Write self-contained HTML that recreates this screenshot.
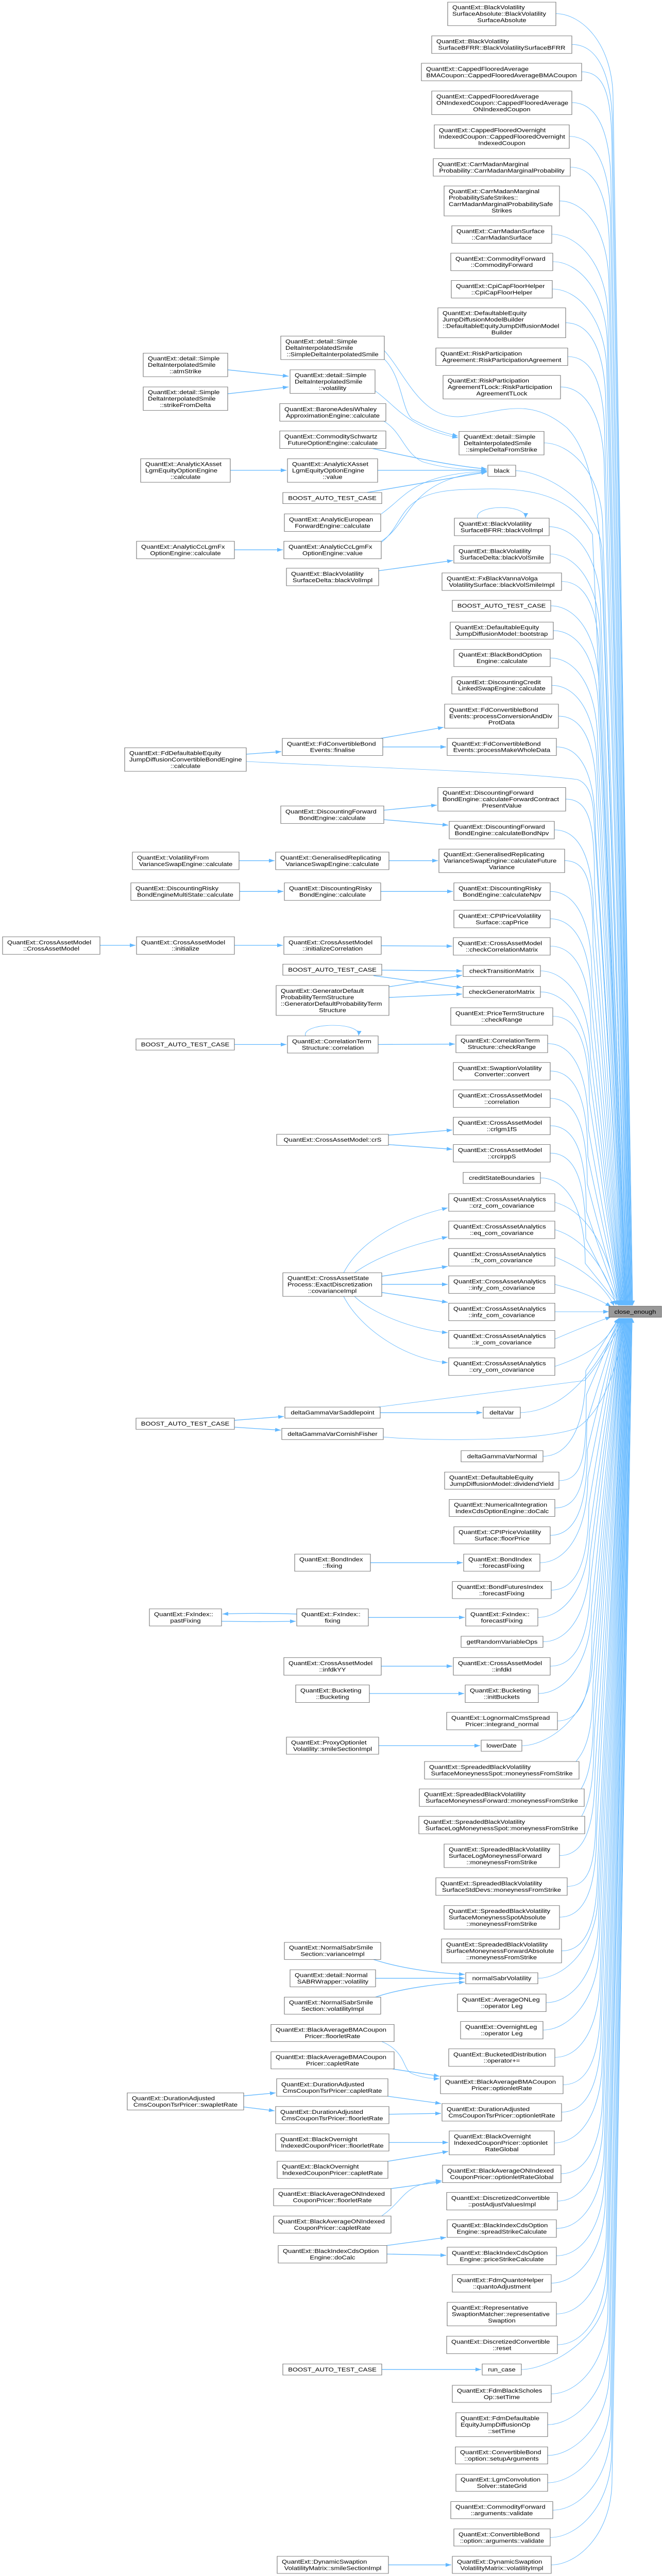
<!DOCTYPE html>
<html><head><meta charset="utf-8"><style>
html,body{margin:0;padding:0;background:#fff;width:100%;height:100vh;overflow:hidden;}
svg{display:block;width:100vw;height:100vh;font-family:"Liberation Sans",Arial,sans-serif;font-size:13px;}
rect{fill:#fff;stroke:#666;stroke-width:1;}
rect.r{fill:#999;}
text{fill:#000;}
.c{text-anchor:middle;}
.e{fill:none;stroke:#63b8ff;stroke-width:1;marker-end:url(#a);}
.t{fill:none;stroke:#63b8ff;stroke-width:1.6;marker-end:url(#a);}
</style></head><body>
<svg viewBox="0 0 1285 6025" preserveAspectRatio="none" xmlns="http://www.w3.org/2000/svg">
<defs><marker id="a" markerUnits="userSpaceOnUse" markerWidth="11" markerHeight="9" refX="11" refY="4.5" orient="auto"><path d="M0,0 L11,4.5 L0,9 z" fill="#63b8ff"/></marker></defs>
<g>
<path class="e" d="M1079 32 C1129 32 1190 102 1190 232 L1228 3053"/>
<path class="e" d="M1110 104 C1160 104 1189 174 1189 304 L1228 3053"/>
<path class="e" d="M1129 168 C1179 168 1188 238 1188 368 L1227 3053"/>
<path class="e" d="M1110 240 C1160 240 1186 310 1186 440 L1226 3053"/>
<path class="e" d="M1105 319 C1155 319 1185 389 1185 519 L1225 3053"/>
<path class="e" d="M1107 391 C1157 391 1183 461 1183 591 L1225 3053"/>
<path class="e" d="M1086 470 C1136 470 1182 540 1182 670 L1224 3053"/>
<path class="e" d="M1071 548 C1121 548 1180 618 1180 748 L1223 3053"/>
<path class="e" d="M1073 612 C1123 612 1179 682 1179 812 L1222 3053"/>
<path class="e" d="M1072 676 C1122 676 1178 746 1178 876 L1222 3053"/>
<path class="e" d="M1098 755 C1148 755 1176 825 1176 955 L1221 3053"/>
<path class="e" d="M1102 834 C1152 834 1174 904 1174 1034 L1220 3053"/>
<path class="e" d="M1088 905 C1138 905 1173 975 1173 1105 L1219 3053"/>
<path class="e" d="M746 820 C790 880 820 990 905 973 C980 960 1030 930 1100 1000 C1150 1060 1165 1200 1170 1400 L1218 3053"/>
<path class="e" d="M1056 1036 C1106 1036 1170 1106 1170 1236 L1218 3053"/>
<path class="e" d="M1001 1101 C1051 1101 1169 1171 1169 1301 L1217 3053"/>
<path class="e" d="M741 1268 C790 1220 770 1150 900 1145 C1000 1140 1100 1140 1150 1250 L1216 3053"/>
<path class="e" d="M1066 1232 C1116 1232 1166 1302 1166 1432 L1216 3053"/>
<path class="e" d="M1068 1296 C1118 1296 1165 1366 1165 1496 L1216 3053"/>
<path class="e" d="M1090 1360 C1140 1360 1164 1430 1164 1560 L1215 3053"/>
<path class="e" d="M1069 1417 C1119 1417 1163 1487 1163 1617 L1214 3053"/>
<path class="e" d="M1074 1475 C1124 1475 1162 1545 1162 1675 L1214 3053"/>
<path class="e" d="M1068 1539 C1118 1539 1160 1609 1160 1739 L1213 3053"/>
<path class="e" d="M1071 1603 C1121 1603 1159 1673 1159 1803 L1213 3053"/>
<path class="e" d="M1084 1675 C1134 1675 1158 1745 1158 1875 L1212 3053"/>
<path class="e" d="M1080 1747 C1130 1747 1156 1817 1156 1947 L1211 3053"/>
<path class="e" d="M478 1781 C700 1795 1000 1805 1120 1823 C1140 1830 1150 1860 1152 1900 L1211 3053"/>
<path class="e" d="M1098 1869 C1148 1869 1154 1939 1154 2069 L1210 3053"/>
<path class="e" d="M1076 1941 C1126 1941 1152 2011 1152 2141 L1209 3053"/>
<path class="e" d="M1096 2013 C1146 2013 1151 2083 1151 2213 L1208 3053"/>
<path class="e" d="M1068 2085 C1118 2085 1149 2155 1149 2285 L1208 3053"/>
<path class="e" d="M1068 2149 C1118 2149 1148 2219 1148 2349 L1207 3053"/>
<path class="e" d="M1068 2213 C1118 2213 1147 2283 1147 2413 L1206 3053"/>
<path class="e" d="M1049 2271 C1099 2271 1146 2341 1146 2471 L1206 3053"/>
<path class="e" d="M1049 2320 C1099 2320 1145 2390 1145 2520 L1205 3053"/>
<path class="e" d="M1073 2377 C1123 2377 1144 2447 1144 2577 L1205 3053"/>
<path class="e" d="M1063 2441 C1113 2441 1142 2511 1142 2641 L1204 3053"/>
<path class="e" d="M1068 2505 C1118 2505 1141 2575 1141 2705 L1204 3053"/>
<path class="e" d="M1068 2569 C1118 2569 1140 2639 1140 2769 L1203 3053"/>
<path class="e" d="M1068 2633 C1118 2633 1138 2703 1138 2833 L1202 3053"/>
<path class="e" d="M1068 2697 C1118 2697 1137 2767 1137 2897 L1202 3053"/>
<path class="e" d="M1049 2755 C1099 2755 1136 2825 1136 2955 L1201 3053"/>
<path class="e" d="M1077 2812 C1130 2830 1180 2900 1200 3053"/>
<path class="e" d="M1077 2876 C1130 2895 1175 2960 1196 3053"/>
<path class="e" d="M1077 2940 C1120 2960 1170 3000 1192 3054"/>
<path class="e" d="M1077 3004 C1110 3015 1150 3030 1186 3056"/>
<path class="e" d="M1077 3068 L1182 3068"/>
<path class="e" d="M1077 3132 C1110 3115 1150 3095 1186 3080"/>
<path class="e" d="M1077 3196 C1140 3170 1180 3140 1200 3084"/>
<path class="e" d="M1010 3304 C1100 3300 1160 3200 1205 3084"/>
<path class="e" d="M733 3291 L1135 3229 C1170 3180 1195 3120 1210 3084"/>
<path class="e" d="M744 3361 C850 3372 1060 3370 1120 3340 C1170 3300 1200 3200 1213 3084"/>
<path class="e" d="M1054 3406 C1104 3406 1137 3336 1137 3206 L1201 3083"/>
<path class="e" d="M1085 3463 C1135 3463 1138 3393 1138 3263 L1202 3083"/>
<path class="e" d="M1077 3527 C1127 3527 1139 3457 1139 3327 L1202 3083"/>
<path class="e" d="M1068 3591 C1118 3591 1140 3521 1140 3391 L1203 3083"/>
<path class="e" d="M1048 3655 C1098 3655 1141 3585 1141 3455 L1204 3083"/>
<path class="e" d="M1070 3719 C1120 3719 1143 3649 1143 3519 L1204 3083"/>
<path class="e" d="M1044 3783 C1094 3783 1144 3713 1144 3583 L1205 3083"/>
<path class="e" d="M1054 3840 C1104 3840 1145 3770 1145 3640 L1206 3083"/>
<path class="e" d="M1068 3897 C1118 3897 1146 3827 1146 3697 L1206 3083"/>
<path class="e" d="M1045 3961 C1095 3961 1148 3891 1148 3761 L1207 3083"/>
<path class="e" d="M1082 4025 C1132 4025 1149 3955 1149 3825 L1207 3083"/>
<path class="e" d="M1013 4083 C1063 4083 1150 4013 1150 3883 L1208 3083"/>
<path class="e" d="M1118 4120 C1135 4095 1151 4060 1151 3940 L1209 3083"/>
<path class="e" d="M1128 4184 C1140 4160 1152 4120 1152 4004 L1209 3083"/>
<path class="e" d="M1129 4248 C1142 4220 1153 4180 1153 4068 L1210 3083"/>
<path class="e" d="M1086 4340 C1136 4340 1155 4270 1155 4140 L1211 3083"/>
<path class="e" d="M1101 4412 C1151 4412 1157 4342 1157 4212 L1211 3083"/>
<path class="e" d="M1086 4484 C1136 4484 1158 4414 1158 4284 L1212 3083"/>
<path class="e" d="M1090 4563 C1140 4563 1160 4493 1160 4363 L1213 3083"/>
<path class="e" d="M1044 4627 C1094 4627 1161 4557 1161 4427 L1213 3083"/>
<path class="e" d="M1060 4684 C1110 4684 1162 4614 1162 4484 L1214 3083"/>
<path class="e" d="M1054 4748 C1104 4748 1163 4678 1163 4548 L1215 3083"/>
<path class="e" d="M1077 4812 C1127 4812 1165 4742 1165 4612 L1215 3083"/>
<path class="e" d="M1093 4876 C1143 4876 1166 4806 1166 4676 L1216 3083"/>
<path class="e" d="M1090 4940 C1140 4940 1167 4870 1167 4740 L1217 3083"/>
<path class="e" d="M1076 5012 C1126 5012 1169 4942 1169 4812 L1217 3083"/>
<path class="e" d="M1089 5084 C1139 5084 1170 5014 1170 4884 L1218 3083"/>
<path class="e" d="M1082 5148 C1132 5148 1171 5078 1171 4948 L1219 3083"/>
<path class="e" d="M1080 5212 C1130 5212 1173 5142 1173 5012 L1219 3083"/>
<path class="e" d="M1080 5276 C1130 5276 1174 5206 1174 5076 L1220 3083"/>
<path class="e" d="M1070 5340 C1120 5340 1175 5270 1175 5140 L1221 3083"/>
<path class="e" d="M1080 5412 C1130 5412 1177 5342 1177 5212 L1221 3083"/>
<path class="e" d="M1082 5484 C1132 5484 1178 5414 1178 5284 L1222 3083"/>
<path class="e" d="M1012 5542 C1062 5542 1179 5472 1179 5342 L1223 3083"/>
<path class="e" d="M1070 5599 C1120 5599 1180 5529 1180 5399 L1223 3083"/>
<path class="e" d="M1063 5671 C1113 5671 1182 5601 1182 5471 L1224 3083"/>
<path class="e" d="M1063 5743 C1113 5743 1183 5673 1183 5543 L1225 3083"/>
<path class="e" d="M1063 5807 C1113 5807 1185 5737 1185 5607 L1225 3083"/>
<path class="e" d="M1073 5871 C1123 5871 1186 5801 1186 5671 L1226 3083"/>
<path class="e" d="M1068 5935 C1118 5935 1187 5865 1187 5735 L1227 3083"/>
<path class="e" d="M1070 5999 C1120 5999 1188 5929 1188 5799 L1227 3083"/>
</g>
<g>
<path class="t" d="M442 865 L560 880"/>
<path class="t" d="M442 921 L560 905"/>
<path class="e" d="M746 840 C780 880 780 960 800 980 C830 1000 860 1012 889 1020"/>
<path class="e" d="M728 914 C770 950 790 1000 889 1024"/>
<path class="e" d="M745 985 C780 1010 785 1060 820 1080 C860 1095 900 1098 945 1100"/>
<path class="t" d="M723 1049 C800 1070 880 1090 945 1097"/>
<path class="t" d="M733 1100 L945 1100"/>
<path class="t" d="M712 1152 L945 1104"/>
<path class="e" d="M740 1202 C790 1160 800 1110 945 1102"/>
<path class="e" d="M740 1266 C800 1220 790 1120 945 1103"/>
<path class="t" d="M455 1286 L549 1286"/>
<path class="t" d="M447 1100 L556 1100"/>
<path class="e" d="M927 1212 C920 1180 1022 1178 1020 1211"/>
<path class="t" d="M735 1335 L879 1311"/>
<path class="t" d="M739 1727 L861 1701"/>
<path class="t" d="M743 1747 L866 1747"/>
<path class="t" d="M478 1764 L546 1758"/>
<path class="t" d="M745 1895 L848 1883"/>
<path class="t" d="M745 1917 L870 1930"/>
<path class="t" d="M464 2013 L533 2013"/>
<path class="t" d="M755 2013 L850 2013"/>
<path class="t" d="M465 2085 L550 2085"/>
<path class="t" d="M739 2085 L879 2085"/>
<path class="t" d="M194 2211 L263 2211"/>
<path class="t" d="M455 2211 L549 2211"/>
<path class="t" d="M740 2212 L878 2213"/>
<path class="t" d="M741 2269 L897 2271"/>
<path class="t" d="M725 2282 L897 2310"/>
<path class="t" d="M755 2308 L897 2281"/>
<path class="t" d="M755 2333 L897 2325"/>
<path class="t" d="M455 2443 L556 2443"/>
<path class="t" d="M734 2443 L883 2442"/>
<path class="e" d="M593 2423 C585 2392 700 2388 696 2422"/>
<path class="t" d="M754 2655 L878 2643"/>
<path class="t" d="M754 2677 L878 2688"/>
<path class="e" d="M667 2977 C700 2900 780 2850 869 2825"/>
<path class="e" d="M688 2977 C730 2940 800 2910 869 2893"/>
<path class="t" d="M741 2985 L869 2962"/>
<path class="t" d="M741 3004 L869 3004"/>
<path class="t" d="M741 3023 L869 3046"/>
<path class="e" d="M688 3032 C720 3070 800 3110 869 3117"/>
<path class="e" d="M667 3032 C700 3110 790 3180 869 3187"/>
<path class="t" d="M738 3304 L936 3304"/>
<path class="t" d="M455 3322 L551 3313"/>
<path class="t" d="M455 3338 L545 3345"/>
<path class="t" d="M719 3655 L898 3655"/>
<path class="t" d="M576 3775 C520 3773 470 3773 432 3775"/>
<path class="t" d="M430 3792 C480 3793 530 3793 574 3792"/>
<path class="t" d="M715 3783 L902 3783"/>
<path class="t" d="M740 3897 L878 3897"/>
<path class="t" d="M717 3961 L901 3961"/>
<path class="t" d="M735 4083 L932 4083"/>
<path class="t" d="M725 4583 C780 4605 850 4615 902 4618"/>
<path class="t" d="M729 4627 L902 4627"/>
<path class="t" d="M729 4671 C780 4650 850 4640 902 4636"/>
<path class="e" d="M741 4775 C790 4800 780 4840 800 4850 C820 4860 840 4862 853 4862"/>
<path class="t" d="M762 4839 L853 4856"/>
<path class="t" d="M473 4902 L535 4895"/>
<path class="t" d="M473 4928 L533 4937"/>
<path class="t" d="M753 4903 L856 4920"/>
<path class="t" d="M755 4945 L856 4943"/>
<path class="t" d="M755 5011 L870 5011"/>
<path class="t" d="M753 5055 L870 5032"/>
<path class="t" d="M759 5119 L857 5103"/>
<path class="e" d="M741 5183 C790 5140 780 5110 857 5100"/>
<path class="t" d="M751 5252 L866 5233"/>
<path class="t" d="M751 5272 L866 5275"/>
<path class="t" d="M741 5542 L934 5542"/>
<path class="t" d="M754 5999 L876 5999"/>
</g>
<g>
<rect x="869" y="5" width="210" height="55"/><text x="878" y="22">QuantExt::BlackVolatility</text><text x="878" y="37">SurfaceAbsolute::BlackVolatility</text><text class="c" x="974" y="52">SurfaceAbsolute</text>
<rect x="838" y="84" width="272" height="41"/><text x="847" y="101.5">QuantExt::BlackVolatility</text><text class="c" x="974" y="116.5">SurfaceBFRR::BlackVolatilitySurfaceBFRR</text>
<rect x="818" y="148" width="311" height="41"/><text x="827" y="165.5">QuantExt::CappedFlooredAverage</text><text class="c" x="973.5" y="180.5">BMACoupon::CappedFlooredAverageBMACoupon</text>
<rect x="838" y="213" width="272" height="55"/><text x="847" y="230">QuantExt::CappedFlooredAverage</text><text x="847" y="245">ONIndexedCoupon::CappedFlooredAverage</text><text class="c" x="974" y="260">ONIndexedCoupon</text>
<rect x="843" y="292" width="262" height="55"/><text x="852" y="309">QuantExt::CappedFlooredOvernight</text><text x="852" y="324">IndexedCoupon::CappedFlooredOvernight</text><text class="c" x="974" y="339">IndexedCoupon</text>
<rect x="841" y="371" width="266" height="41"/><text x="850" y="388.5">QuantExt::CarrMadanMarginal</text><text class="c" x="974" y="403.5">Probability::CarrMadanMarginalProbability</text>
<rect x="862" y="435" width="224" height="70"/><text x="871" y="452">QuantExt::CarrMadanMarginal</text><text x="871" y="467">ProbabilitySafeStrikes::</text><text x="871" y="482">CarrMadanMarginalProbabilitySafe</text><text class="c" x="974" y="497">Strikes</text>
<rect x="877" y="528" width="194" height="41"/><text x="886" y="545.5">QuantExt::CarrMadanSurface</text><text class="c" x="974" y="560.5">::CarrMadanSurface</text>
<rect x="875" y="592" width="198" height="41"/><text x="884" y="609.5">QuantExt::CommodityForward</text><text class="c" x="974" y="624.5">::CommodityForward</text>
<rect x="876" y="656" width="196" height="41"/><text x="885" y="673.5">QuantExt::CpiCapFloorHelper</text><text class="c" x="974" y="688.5">::CpiCapFloorHelper</text>
<rect x="850" y="720" width="248" height="70"/><text x="859" y="737">QuantExt::DefaultableEquity</text><text x="859" y="752">JumpDiffusionModelBuilder</text><text x="859" y="767">::DefaultableEquityJumpDiffusionModel</text><text class="c" x="974" y="782">Builder</text>
<rect x="846" y="814" width="256" height="41"/><text x="855" y="831.5">QuantExt::RiskParticipation</text><text class="c" x="974" y="846.5">Agreement::RiskParticipationAgreement</text>
<rect x="860" y="878" width="228" height="55"/><text x="869" y="895">QuantExt::RiskParticipation</text><text x="869" y="910">AgreementTLock::RiskParticipation</text><text class="c" x="974" y="925">AgreementTLock</text>
<rect x="545" y="786" width="201" height="55"/><text x="554" y="803">QuantExt::detail::Simple</text><text x="554" y="818">DeltaInterpolatedSmile</text><text class="c" x="645.5" y="833">::SimpleDeltaInterpolatedSmile</text>
<rect x="563" y="865" width="165" height="55"/><text x="572" y="882">QuantExt::detail::Simple</text><text x="572" y="897">DeltaInterpolatedSmile</text><text class="c" x="645.5" y="912">::volatility</text>
<rect x="543" y="944" width="206" height="41"/><text x="552" y="961.5">QuantExt::BaroneAdesiWhaley</text><text class="c" x="646" y="976.5">ApproximationEngine::calculate</text>
<rect x="278" y="826" width="164" height="55"/><text x="287" y="843">QuantExt::detail::Simple</text><text x="287" y="858">DeltaInterpolatedSmile</text><text class="c" x="360" y="873">::atmStrike</text>
<rect x="278" y="905" width="164" height="55"/><text x="287" y="922">QuantExt::detail::Simple</text><text x="287" y="937">DeltaInterpolatedSmile</text><text class="c" x="360" y="952">::strikeFromDelta</text>
<rect x="543" y="1008" width="206" height="41"/><text x="552" y="1025.5">QuantExt::CommoditySchwartz</text><text class="c" x="646" y="1040.5">FutureOptionEngine::calculate</text>
<rect x="891" y="1009" width="165" height="55"/><text x="900" y="1026">QuantExt::detail::Simple</text><text x="900" y="1041">DeltaInterpolatedSmile</text><text class="c" x="973.5" y="1056">::simpleDeltaFromStrike</text>
<rect x="947" y="1088" width="54" height="26"/><text class="c" x="974" y="1105.5">black</text>
<rect x="273" y="1073" width="174" height="55"/><text x="282" y="1090">QuantExt::AnalyticXAsset</text><text x="282" y="1105">LgmEquityOptionEngine</text><text class="c" x="360" y="1120">::calculate</text>
<rect x="558" y="1073" width="175" height="55"/><text x="567" y="1090">QuantExt::AnalyticXAsset</text><text x="567" y="1105">LgmEquityOptionEngine</text><text class="c" x="645.5" y="1120">::value</text>
<rect x="549" y="1152" width="192" height="26"/><text class="c" x="645" y="1169.5">BOOST_AUTO_TEST_CASE</text>
<rect x="552" y="1202" width="187" height="41"/><text x="561" y="1219.5">QuantExt::AnalyticEuropean</text><text class="c" x="645.5" y="1234.5">ForwardEngine::calculate</text>
<rect x="265" y="1266" width="190" height="41"/><text x="274" y="1283.5">QuantExt::AnalyticCcLgmFx</text><text class="c" x="360" y="1298.5">OptionEngine::calculate</text>
<rect x="551" y="1266" width="189" height="41"/><text x="560" y="1283.5">QuantExt::AnalyticCcLgmFx</text><text class="c" x="645.5" y="1298.5">OptionEngine::value</text>
<rect x="882" y="1212" width="184" height="41"/><text x="891" y="1229.5">QuantExt::BlackVolatility</text><text class="c" x="974" y="1244.5">SurfaceBFRR::blackVolImpl</text>
<rect x="881" y="1276" width="187" height="41"/><text x="890" y="1293.5">QuantExt::BlackVolatility</text><text class="c" x="974.5" y="1308.5">SurfaceDelta::blackVolSmile</text>
<rect x="556" y="1329" width="179" height="41"/><text x="565" y="1346.5">QuantExt::BlackVolatility</text><text class="c" x="645.5" y="1361.5">SurfaceDelta::blackVolImpl</text>
<rect x="858" y="1340" width="232" height="41"/><text x="867" y="1357.5">QuantExt::FxBlackVannaVolga</text><text class="c" x="974" y="1372.5">VolatilitySurface::blackVolSmileImpl</text>
<rect x="878" y="1404" width="191" height="26"/><text class="c" x="973.5" y="1421.5">BOOST_AUTO_TEST_CASE</text>
<rect x="874" y="1455" width="200" height="40"/><text x="883" y="1472">QuantExt::DefaultableEquity</text><text class="c" x="974" y="1487">JumpDiffusionModel::bootstrap</text>
<rect x="881" y="1519" width="187" height="40"/><text x="890" y="1536">QuantExt::BlackBondOption</text><text class="c" x="974.5" y="1551">Engine::calculate</text>
<rect x="877" y="1583" width="194" height="40"/><text x="886" y="1600">QuantExt::DiscountingCredit</text><text class="c" x="974" y="1615">LinkedSwapEngine::calculate</text>
<rect x="863" y="1647" width="221" height="56"/><text x="872" y="1664.5">QuantExt::FdConvertibleBond</text><text x="872" y="1679.5">Events::processConversionAndDiv</text><text class="c" x="973.5" y="1694.5">ProtData</text>
<rect x="548" y="1727" width="195" height="40"/><text x="557" y="1744">QuantExt::FdConvertibleBond</text><text class="c" x="645.5" y="1759">Events::finalise</text>
<rect x="868" y="1727" width="212" height="40"/><text x="877" y="1744">QuantExt::FdConvertibleBond</text><text class="c" x="974" y="1759">Events::processMakeWholeData</text>
<rect x="242" y="1749" width="236" height="55"/><text x="251" y="1766">QuantExt::FdDefaultableEquity</text><text x="251" y="1781">JumpDiffusionConvertibleBondEngine</text><text class="c" x="360" y="1796">::calculate</text>
<rect x="850" y="1842" width="248" height="55"/><text x="859" y="1859">QuantExt::DiscountingForward</text><text x="859" y="1874">BondEngine::calculateForwardContract</text><text class="c" x="974" y="1889">PresentValue</text>
<rect x="545" y="1885" width="200" height="41"/><text x="554" y="1902.5">QuantExt::DiscountingForward</text><text class="c" x="645" y="1917.5">BondEngine::calculate</text>
<rect x="872" y="1921" width="204" height="41"/><text x="881" y="1938.5">QuantExt::DiscountingForward</text><text class="c" x="974" y="1953.5">BondEngine::calculateBondNpv</text>
<rect x="257" y="1993" width="207" height="41"/><text x="266" y="2010.5">QuantExt::VolatilityFrom</text><text class="c" x="360.5" y="2025.5">VarianceSwapEngine::calculate</text>
<rect x="535" y="1993" width="220" height="41"/><text x="544" y="2010.5">QuantExt::GeneralisedReplicating</text><text class="c" x="645" y="2025.5">VarianceSwapEngine::calculate</text>
<rect x="852" y="1986" width="244" height="55"/><text x="861" y="2003">QuantExt::GeneralisedReplicating</text><text x="861" y="2018">VarianceSwapEngine::calculateFuture</text><text class="c" x="974" y="2033">Variance</text>
<rect x="254" y="2065" width="211" height="41"/><text x="263" y="2082.5">QuantExt::DiscountingRisky</text><text class="c" x="359.5" y="2097.5">BondEngineMultiState::calculate</text>
<rect x="552" y="2065" width="187" height="41"/><text x="561" y="2082.5">QuantExt::DiscountingRisky</text><text class="c" x="645.5" y="2097.5">BondEngine::calculate</text>
<rect x="881" y="2065" width="187" height="41"/><text x="890" y="2082.5">QuantExt::DiscountingRisky</text><text class="c" x="974.5" y="2097.5">BondEngine::calculateNpv</text>
<rect x="881" y="2129" width="187" height="41"/><text x="890" y="2146.5">QuantExt::CPIPriceVolatility</text><text class="c" x="974.5" y="2161.5">Surface::capPrice</text>
<rect x="5" y="2191" width="189" height="41"/><text x="14" y="2208.5">QuantExt::CrossAssetModel</text><text class="c" x="99.5" y="2223.5">::CrossAssetModel</text>
<rect x="265" y="2191" width="190" height="41"/><text x="274" y="2208.5">QuantExt::CrossAssetModel</text><text class="c" x="360" y="2223.5">::initialize</text>
<rect x="551" y="2191" width="189" height="41"/><text x="560" y="2208.5">QuantExt::CrossAssetModel</text><text class="c" x="645.5" y="2223.5">::initializeCorrelation</text>
<rect x="880" y="2193" width="188" height="41"/><text x="889" y="2210.5">QuantExt::CrossAssetModel</text><text class="c" x="974" y="2225.5">::checkCorrelationMatrix</text>
<rect x="549" y="2255" width="192" height="26"/><text class="c" x="645" y="2272.5">BOOST_AUTO_TEST_CASE</text>
<rect x="899" y="2258" width="150" height="26"/><text class="c" x="974" y="2275.5">checkTransitionMatrix</text>
<rect x="536" y="2305" width="219" height="70"/><text x="545" y="2322">QuantExt::GeneratorDefault</text><text x="545" y="2337">ProbabilityTermStructure</text><text x="545" y="2352">::GeneratorDefaultProbabilityTerm</text><text class="c" x="645.5" y="2367">Structure</text>
<rect x="899" y="2307" width="150" height="26"/><text class="c" x="974" y="2324.5">checkGeneratorMatrix</text>
<rect x="875" y="2357" width="198" height="41"/><text x="884" y="2374.5">QuantExt::PriceTermStructure</text><text class="c" x="974" y="2389.5">::checkRange</text>
<rect x="264" y="2430" width="191" height="26"/><text class="c" x="359.5" y="2447.5">BOOST_AUTO_TEST_CASE</text>
<rect x="558" y="2423" width="176" height="40"/><text x="567" y="2440">QuantExt::CorrelationTerm</text><text class="c" x="646" y="2455">Structure::correlation</text>
<rect x="885" y="2421" width="178" height="41"/><text x="894" y="2438.5">QuantExt::CorrelationTerm</text><text class="c" x="974" y="2453.5">Structure::checkRange</text>
<rect x="880" y="2485" width="188" height="41"/><text x="889" y="2502.5">QuantExt::SwaptionVolatility</text><text class="c" x="974" y="2517.5">Converter::convert</text>
<rect x="880" y="2549" width="188" height="41"/><text x="889" y="2566.5">QuantExt::CrossAssetModel</text><text class="c" x="974" y="2581.5">::correlation</text>
<rect x="880" y="2613" width="188" height="41"/><text x="889" y="2630.5">QuantExt::CrossAssetModel</text><text class="c" x="974" y="2645.5">::crlgm1fS</text>
<rect x="537" y="2653" width="217" height="26"/><text class="c" x="645.5" y="2670.5">QuantExt::CrossAssetModel::crS</text>
<rect x="880" y="2677" width="188" height="41"/><text x="889" y="2694.5">QuantExt::CrossAssetModel</text><text class="c" x="974" y="2709.5">::crcirppS</text>
<rect x="899" y="2742" width="150" height="26"/><text class="c" x="974" y="2759.5">creditStateBoundaries</text>
<rect x="871" y="2792" width="206" height="41"/><text x="880" y="2809.5">QuantExt::CrossAssetAnalytics</text><text class="c" x="974" y="2824.5">::crz_com_covariance</text>
<rect x="871" y="2856" width="206" height="41"/><text x="880" y="2873.5">QuantExt::CrossAssetAnalytics</text><text class="c" x="974" y="2888.5">::eq_com_covariance</text>
<rect x="871" y="2920" width="206" height="41"/><text x="880" y="2937.5">QuantExt::CrossAssetAnalytics</text><text class="c" x="974" y="2952.5">::fx_com_covariance</text>
<rect x="871" y="2984" width="206" height="41"/><text x="880" y="3001.5">QuantExt::CrossAssetAnalytics</text><text class="c" x="974" y="3016.5">::infy_com_covariance</text>
<rect x="549" y="2977" width="192" height="55"/><text x="558" y="2994">QuantExt::CrossAssetState</text><text x="558" y="3009">Process::ExactDiscretization</text><text class="c" x="645" y="3024">::covarianceImpl</text>
<rect x="871" y="3048" width="206" height="41"/><text x="880" y="3065.5">QuantExt::CrossAssetAnalytics</text><text class="c" x="974" y="3080.5">::infz_com_covariance</text>
<rect x="871" y="3112" width="206" height="41"/><text x="880" y="3129.5">QuantExt::CrossAssetAnalytics</text><text class="c" x="974" y="3144.5">::ir_com_covariance</text>
<rect x="871" y="3176" width="206" height="41"/><text x="880" y="3193.5">QuantExt::CrossAssetAnalytics</text><text class="c" x="974" y="3208.5">::cry_com_covariance</text>
<rect class="r" x="1182" y="3055" width="102" height="26"/><text class="c" x="1233" y="3072.5">close_enough</text>
<rect x="553" y="3291" width="185" height="26"/><text class="c" x="645.5" y="3308.5">deltaGammaVarSaddlepoint</text>
<rect x="938" y="3291" width="72" height="26"/><text class="c" x="974" y="3308.5">deltaVar</text>
<rect x="264" y="3317" width="191" height="26"/><text class="c" x="359.5" y="3334.5">BOOST_AUTO_TEST_CASE</text>
<rect x="547" y="3341" width="197" height="26"/><text class="c" x="645.5" y="3358.5">deltaGammaVarCornishFisher</text>
<rect x="895" y="3393" width="159" height="26"/><text class="c" x="974.5" y="3410.5">deltaGammaVarNormal</text>
<rect x="863" y="3443" width="222" height="40"/><text x="872" y="3460">QuantExt::DefaultableEquity</text><text class="c" x="974" y="3475">JumpDiffusionModel::dividendYield</text>
<rect x="872" y="3507" width="205" height="40"/><text x="881" y="3524">QuantExt::NumericalIntegration</text><text class="c" x="974.5" y="3539">IndexCdsOptionEngine::doCalc</text>
<rect x="881" y="3571" width="187" height="40"/><text x="890" y="3588">QuantExt::CPIPriceVolatility</text><text class="c" x="974.5" y="3603">Surface::floorPrice</text>
<rect x="572" y="3635" width="147" height="40"/><text x="581" y="3652">QuantExt::BondIndex</text><text class="c" x="645.5" y="3667">::fixing</text>
<rect x="900" y="3635" width="148" height="40"/><text x="909" y="3652">QuantExt::BondIndex</text><text class="c" x="974" y="3667">::forecastFixing</text>
<rect x="878" y="3699" width="192" height="40"/><text x="887" y="3716">QuantExt::BondFuturesIndex</text><text class="c" x="974" y="3731">::forecastFixing</text>
<rect x="290" y="3763" width="140" height="40"/><text x="299" y="3780">QuantExt::FxIndex::</text><text class="c" x="360" y="3795">pastFixing</text>
<rect x="576" y="3763" width="139" height="40"/><text x="585" y="3780">QuantExt::FxIndex::</text><text class="c" x="645.5" y="3795">fixing</text>
<rect x="904" y="3763" width="140" height="40"/><text x="913" y="3780">QuantExt::FxIndex::</text><text class="c" x="974" y="3795">forecastFixing</text>
<rect x="895" y="3827" width="159" height="26"/><text class="c" x="974.5" y="3844.5">getRandomVariableOps</text>
<rect x="551" y="3877" width="189" height="41"/><text x="560" y="3894.5">QuantExt::CrossAssetModel</text><text class="c" x="645.5" y="3909.5">::infdkYY</text>
<rect x="880" y="3877" width="188" height="41"/><text x="889" y="3894.5">QuantExt::CrossAssetModel</text><text class="c" x="974" y="3909.5">::infdkI</text>
<rect x="574" y="3941" width="143" height="41"/><text x="583" y="3958.5">QuantExt::Bucketing</text><text class="c" x="645.5" y="3973.5">::Bucketing</text>
<rect x="903" y="3941" width="142" height="41"/><text x="912" y="3958.5">QuantExt::Bucketing</text><text class="c" x="974" y="3973.5">::initBuckets</text>
<rect x="867" y="4005" width="215" height="41"/><text x="876" y="4022.5">QuantExt::LognormalCmsSpread</text><text class="c" x="974.5" y="4037.5">Pricer::integrand_normal</text>
<rect x="556" y="4063" width="179" height="40"/><text x="565" y="4080">QuantExt::ProxyOptionlet</text><text class="c" x="645.5" y="4095">Volatility::smileSectionImpl</text>
<rect x="934" y="4070" width="79" height="26"/><text class="c" x="973.5" y="4087.5">lowerDate</text>
<rect x="824" y="4120" width="300" height="41"/><text x="833" y="4137.5">QuantExt::SpreadedBlackVolatility</text><text class="c" x="974" y="4152.5">SurfaceMoneynessSpot::moneynessFromStrike</text>
<rect x="814" y="4184" width="320" height="41"/><text x="823" y="4201.5">QuantExt::SpreadedBlackVolatility</text><text class="c" x="974" y="4216.5">SurfaceMoneynessForward::moneynessFromStrike</text>
<rect x="813" y="4248" width="322" height="41"/><text x="822" y="4265.5">QuantExt::SpreadedBlackVolatility</text><text class="c" x="974" y="4280.5">SurfaceLogMoneynessSpot::moneynessFromStrike</text>
<rect x="862" y="4313" width="224" height="55"/><text x="871" y="4330">QuantExt::SpreadedBlackVolatility</text><text x="871" y="4345">SurfaceLogMoneynessForward</text><text class="c" x="974" y="4360">::moneynessFromStrike</text>
<rect x="846" y="4392" width="255" height="41"/><text x="855" y="4409.5">QuantExt::SpreadedBlackVolatility</text><text class="c" x="973.5" y="4424.5">SurfaceStdDevs::moneynessFromStrike</text>
<rect x="862" y="4457" width="224" height="55"/><text x="871" y="4474">QuantExt::SpreadedBlackVolatility</text><text x="871" y="4489">SurfaceMoneynessSpotAbsolute</text><text class="c" x="974" y="4504">::moneynessFromStrike</text>
<rect x="857" y="4535" width="233" height="56"/><text x="866" y="4552.5">QuantExt::SpreadedBlackVolatility</text><text x="866" y="4567.5">SurfaceMoneynessForwardAbsolute</text><text class="c" x="973.5" y="4582.5">::moneynessFromStrike</text>
<rect x="552" y="4543" width="187" height="40"/><text x="561" y="4560">QuantExt::NormalSabrSmile</text><text class="c" x="645.5" y="4575">Section::varianceImpl</text>
<rect x="904" y="4614" width="140" height="26"/><text class="c" x="974" y="4631.5">normalSabrVolatility</text>
<rect x="563" y="4607" width="166" height="40"/><text x="572" y="4624">QuantExt::detail::Normal</text><text class="c" x="646" y="4639">SABRWrapper::volatility</text>
<rect x="552" y="4671" width="187" height="40"/><text x="561" y="4688">QuantExt::NormalSabrSmile</text><text class="c" x="645.5" y="4703">Section::volatilityImpl</text>
<rect x="888" y="4664" width="172" height="41"/><text x="897" y="4681.5">QuantExt::AverageONLeg</text><text class="c" x="974" y="4696.5">::operator Leg</text>
<rect x="894" y="4728" width="160" height="41"/><text x="903" y="4745.5">QuantExt::OvernightLeg</text><text class="c" x="974" y="4760.5">::operator Leg</text>
<rect x="526" y="4735" width="239" height="40"/><text x="535" y="4752">QuantExt::BlackAverageBMACoupon</text><text class="c" x="645.5" y="4767">Pricer::floorletRate</text>
<rect x="871" y="4792" width="206" height="41"/><text x="880" y="4809.5">QuantExt::BucketedDistribution</text><text class="c" x="974" y="4824.5">::operator+=</text>
<rect x="526" y="4799" width="239" height="40"/><text x="535" y="4816">QuantExt::BlackAverageBMACoupon</text><text class="c" x="645.5" y="4831">Pricer::capletRate</text>
<rect x="855" y="4856" width="238" height="41"/><text x="864" y="4873.5">QuantExt::BlackAverageBMACoupon</text><text class="c" x="974" y="4888.5">Pricer::optionletRate</text>
<rect x="537" y="4862" width="216" height="41"/><text x="546" y="4879.5">QuantExt::DurationAdjusted</text><text class="c" x="645" y="4894.5">CmsCouponTsrPricer::capletRate</text>
<rect x="247" y="4895" width="226" height="40"/><text x="256" y="4912">QuantExt::DurationAdjusted</text><text class="c" x="360" y="4927">CmsCouponTsrPricer::swapletRate</text>
<rect x="535" y="4927" width="220" height="40"/><text x="544" y="4944">QuantExt::DurationAdjusted</text><text class="c" x="645" y="4959">CmsCouponTsrPricer::floorletRate</text>
<rect x="858" y="4920" width="232" height="41"/><text x="867" y="4937.5">QuantExt::DurationAdjusted</text><text class="c" x="974" y="4952.5">CmsCouponTsrPricer::optionletRate</text>
<rect x="535" y="4991" width="220" height="40"/><text x="544" y="5008">QuantExt::BlackOvernight</text><text class="c" x="645" y="5023">IndexedCouponPricer::floorletRate</text>
<rect x="872" y="4984" width="204" height="56"/><text x="881" y="5001.5">QuantExt::BlackOvernight</text><text x="881" y="5016.5">IndexedCouponPricer::optionlet</text><text class="c" x="974" y="5031.5">RateGlobal</text>
<rect x="538" y="5055" width="215" height="40"/><text x="547" y="5072">QuantExt::BlackOvernight</text><text class="c" x="645.5" y="5087">IndexedCouponPricer::capletRate</text>
<rect x="859" y="5064" width="230" height="41"/><text x="868" y="5081.5">QuantExt::BlackAverageONIndexed</text><text class="c" x="974" y="5096.5">CouponPricer::optionletRateGlobal</text>
<rect x="531" y="5119" width="228" height="40"/><text x="540" y="5136">QuantExt::BlackAverageONIndexed</text><text class="c" x="645" y="5151">CouponPricer::floorletRate</text>
<rect x="867" y="5128" width="215" height="41"/><text x="876" y="5145.5">QuantExt::DiscretizedConvertible</text><text class="c" x="974.5" y="5160.5">::postAdjustValuesImpl</text>
<rect x="531" y="5183" width="228" height="40"/><text x="540" y="5200">QuantExt::BlackAverageONIndexed</text><text class="c" x="645" y="5215">CouponPricer::capletRate</text>
<rect x="868" y="5192" width="212" height="41"/><text x="877" y="5209.5">QuantExt::BlackIndexCdsOption</text><text class="c" x="974" y="5224.5">Engine::spreadStrikeCalculate</text>
<rect x="540" y="5252" width="211" height="41"/><text x="549" y="5269.5">QuantExt::BlackIndexCdsOption</text><text class="c" x="645.5" y="5284.5">Engine::doCalc</text>
<rect x="868" y="5256" width="212" height="41"/><text x="877" y="5273.5">QuantExt::BlackIndexCdsOption</text><text class="c" x="974" y="5288.5">Engine::priceStrikeCalculate</text>
<rect x="878" y="5320" width="192" height="41"/><text x="887" y="5337.5">QuantExt::FdmQuantoHelper</text><text class="c" x="974" y="5352.5">::quantoAdjustment</text>
<rect x="868" y="5385" width="212" height="55"/><text x="877" y="5402">QuantExt::Representative</text><text x="877" y="5417">SwaptionMatcher::representative</text><text class="c" x="974" y="5432">Swaption</text>
<rect x="867" y="5464" width="215" height="41"/><text x="876" y="5481.5">QuantExt::DiscretizedConvertible</text><text class="c" x="974.5" y="5496.5">::reset</text>
<rect x="549" y="5529" width="192" height="26"/><text class="c" x="645" y="5546.5">BOOST_AUTO_TEST_CASE</text>
<rect x="936" y="5529" width="76" height="26"/><text class="c" x="974" y="5546.5">run_case</text>
<rect x="878" y="5579" width="192" height="40"/><text x="887" y="5596">QuantExt::FdmBlackScholes</text><text class="c" x="974" y="5611">Op::setTime</text>
<rect x="885" y="5643" width="178" height="56"/><text x="894" y="5660.5">QuantExt::FdmDefaultable</text><text x="894" y="5675.5">EquityJumpDiffusionOp</text><text class="c" x="974" y="5690.5">::setTime</text>
<rect x="884" y="5723" width="179" height="40"/><text x="893" y="5740">QuantExt::ConvertibleBond</text><text class="c" x="973.5" y="5755">::option::setupArguments</text>
<rect x="885" y="5787" width="178" height="40"/><text x="894" y="5804">QuantExt::LgmConvolution</text><text class="c" x="974" y="5819">Solver::stateGrid</text>
<rect x="875" y="5851" width="198" height="40"/><text x="884" y="5868">QuantExt::CommodityForward</text><text class="c" x="974" y="5883">::arguments::validate</text>
<rect x="881" y="5915" width="187" height="40"/><text x="890" y="5932">QuantExt::ConvertibleBond</text><text class="c" x="974.5" y="5947">::option::arguments::validate</text>
<rect x="538" y="5979" width="216" height="40"/><text x="547" y="5996">QuantExt::DynamicSwaption</text><text class="c" x="646" y="6011">VolatilityMatrix::smileSectionImpl</text>
<rect x="878" y="5979" width="192" height="40"/><text x="887" y="5996">QuantExt::DynamicSwaption</text><text class="c" x="974" y="6011">VolatilityMatrix::volatilityImpl</text>
</g>
</svg>
</body></html>
